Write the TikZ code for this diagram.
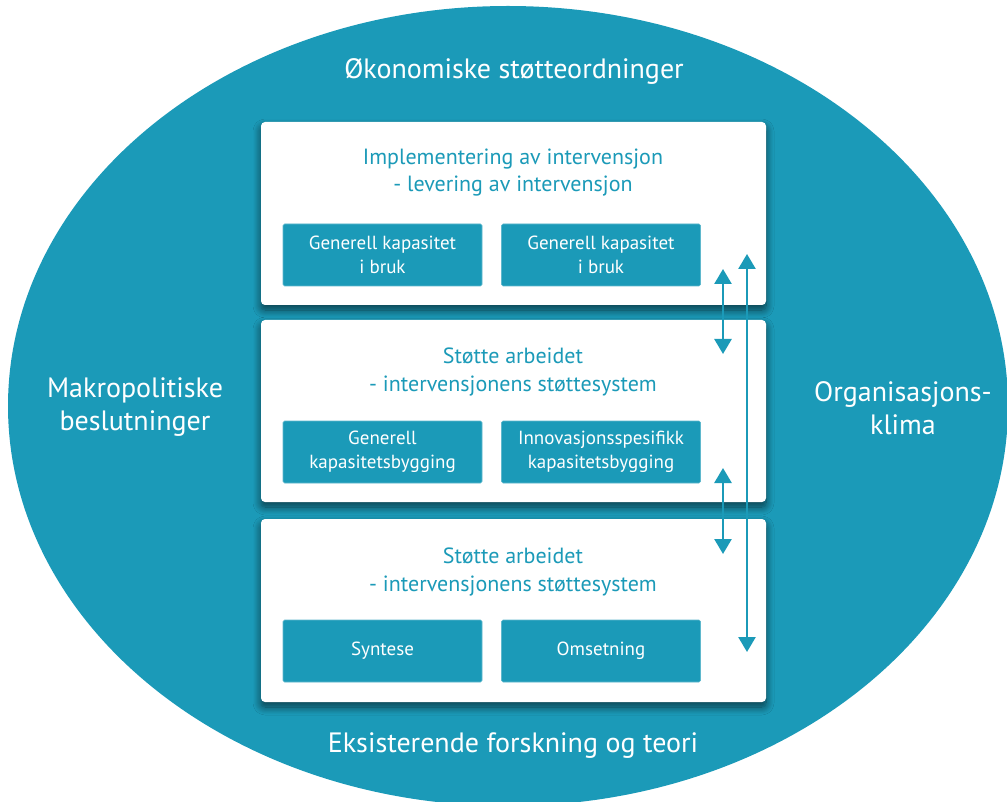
\documentclass[tikz,border=0pt]{standalone}
\usepackage{fontspec}
\setmainfont{PT Sans}
\usetikzlibrary{shadows.blur,arrows.meta}
\definecolor{brandteal}{HTML}{1B9AB8}
\tikzset{
  panel/.style={fill=white, rounded corners=4pt, minimum width=505pt,
    blur shadow={shadow xshift=0pt, shadow yshift=-5pt, shadow blur radius=8pt,
      shadow blur steps=10, shadow opacity=60}},
  cell/.style={fill=brandteal, draw=brandteal!70!white, line width=0.6pt,
    rounded corners=1.5pt, minimum width=199pt, minimum height=62pt,
    text=white, align=center, font=\fontsize{19}{24}\selectfont, inner sep=0pt},
  paneltitle/.style={text=brandteal, align=center, font=\fontsize{22}{27.5}\selectfont},
  outerlabel/.style={text=white, align=center, font=\fontsize{28}{33}\selectfont},
  link/.style={draw=brandteal, line width=2.6pt,
    {Triangle[width=17pt,length=15pt]}-{Triangle[width=17pt,length=15pt]}}
}
\begin{document}
\begin{tikzpicture}[x=1pt,y=-1pt]
\useasboundingbox (0,0) rectangle (1007,802);

% outer field
\fill[brandteal] (508,406) ellipse [x radius=500, y radius=400];

% context labels around the stack
\node[outerlabel] (top)    at (514,71)  {Økonomiske støtteordninger};
\node[outerlabel] (left)   at (135,407) {Makropolitiske\\beslutninger};
\node[outerlabel] (right)  at (903,408) {Organisasjons-\\klima};
\node[outerlabel] (bottom) at (513,746) {Eksisterende forskning og teori};

% the three system panels
\node[panel, minimum height=183pt] (p1) at (513.5,213.5) {};
\node[panel, minimum height=182pt] (p2) at (513.5,411)   {};
\node[panel, minimum height=183pt] (p3) at (513.5,610.5) {};

\node[paneltitle] (t1) at (513,172.5) {Implementering av intervensjon\\- levering av intervensjon};
\node[paneltitle] (t2) at (513,372)   {Støtte arbeidet\\- intervensjonens støttesystem};
\node[paneltitle] (t3) at (513,572)   {Støtte arbeidet\\- intervensjonens støttesystem};

\node[cell] (c11) at (382.5,255) {Generell kapasitet\\i bruk};
\node[cell] (c12) at (601,255)   {Generell kapasitet\\i bruk};
\node[cell] (c21) at (382.5,452) {Generell\\kapasitetsbygging};
\node[cell] (c22) at (601,452)   {Innovasjonsspesifikk\\kapasitetsbygging};
\node[cell] (c31) at (382.5,651) {Syntese};
\node[cell] (c32) at (601,651)   {Omsetning};

% exchange between neighbouring panels, and across the whole stack
\coordinate (u1) at (723,269);
\coordinate (d1) at (723,354);
\coordinate (u2) at (723,468);
\coordinate (d2) at (723,554);
\coordinate (uL) at (747,254);
\coordinate (dL) at (747,652);
\draw[link] (u1) -- (d1);
\draw[link] (u2) -- (d2);
\draw[link] (uL) -- (dL);
\end{tikzpicture}
\end{document}
